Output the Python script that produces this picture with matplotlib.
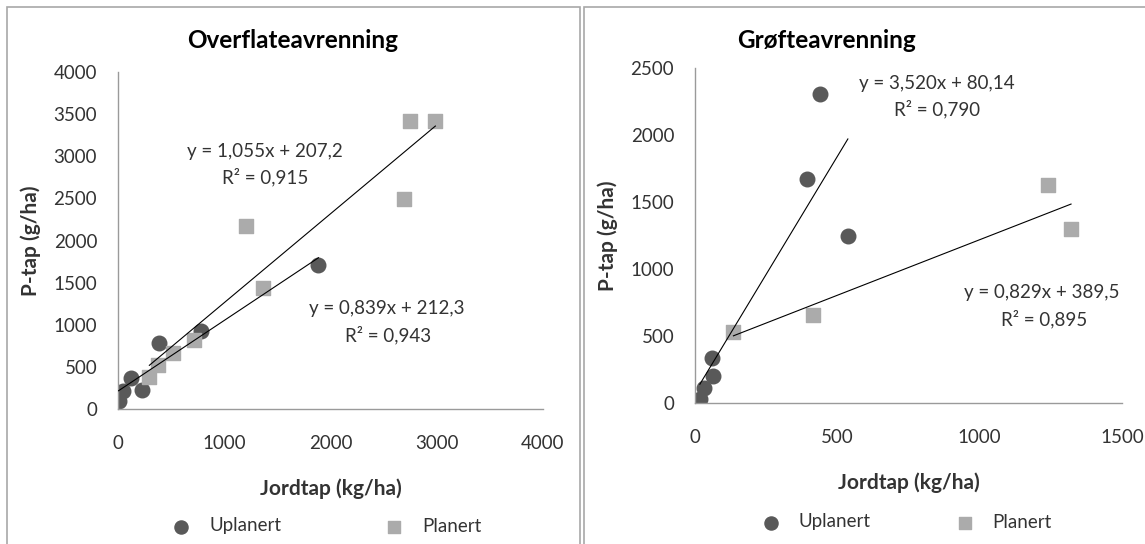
import numpy as np
import matplotlib
matplotlib.use("Agg")
import matplotlib.pyplot as plt
from matplotlib.patches import Rectangle

plt.rcParams['font.family'] = ['Lato', 'DejaVu Sans']

# Overflateavrenning (surface runoff)
ovf_upl_x = [5, 45, 120, 226, 387, 784, 1887]
ovf_upl_y = [100, 219, 366, 231, 784, 923, 1711]
ovf_pla_x = [295, 377, 521, 719, 1209, 1360, 2692, 2750, 2987]
ovf_pla_y = [378, 517, 665, 824, 2177, 1441, 2495, 3423, 3423]

# Grofteavrenning (drain runoff)
gro_upl_x = [17, 30, 59, 62, 394, 439, 537]
gro_upl_y = [30, 112, 336, 204, 1674, 2304, 1249]
gro_pla_x = [135, 413, 1240, 1321]
gro_pla_y = [527, 659, 1630, 1299]

# trendline coefficients (slope, intercept) as printed in the chart
ovf_upl_fit = (0.839, 212.3)
ovf_pla_fit = (1.055, 207.2)
gro_upl_fit = (3.520, 80.14)
gro_pla_fit = (0.829, 389.5)

ovf_upl_lbl = ["y = 0,839x + 212,3", "R² = 0,943"]
ovf_pla_lbl = ["y = 1,055x + 207,2", "R² = 0,915"]
gro_upl_lbl = ["y = 3,520x + 80,14", "R² = 0,790"]
gro_pla_lbl = ["y = 0,829x + 389,5", "R² = 0,895"]

titles = ["Overflateavrenning", "Grøfteavrenning"]
xlabel = "Jordtap (kg/ha)"
ylabel = "P-tap (g/ha)"
legend_names = ["Uplanert", "Planert"]

DARK = '#595959'
LIGHT = '#ababab'
TXT = '#333333'
AX = '#9a9a9a'
FS = 13.5

W, H = 1145, 544
fig = plt.figure(figsize=(W / 100, H / 100), dpi=100)

# panel frames
fig.patches.append(Rectangle((7 / W, -0.1), (580 - 7) / W, 1.1 - 7 / H, transform=fig.transFigure,
                             fill=False, ec='#a8a8a8', lw=1.2))
fig.patches.append(Rectangle((584 / W, -0.1), 1.0, 1.1 - 7 / H, transform=fig.transFigure,
                             fill=False, ec='#a8a8a8', lw=1.2))

ax1 = fig.add_axes([118 / W, (H - 409) / H, 425 / W, 337 / H])
ax2 = fig.add_axes([695 / W, (H - 403) / H, 427 / W, 335 / H])


def trend(ax, xs, fit):
    x = np.array([min(xs), max(xs)])
    ax.plot(x, fit[0] * x + fit[1], color='black', lw=0.8, zorder=3)


def style(ax, xmax, xstep, ymax, ystep):
    ax.set_xlim(0, xmax)
    ax.set_ylim(0, ymax)
    ax.set_xticks(np.arange(0, xmax + 1, xstep))
    ax.set_yticks(np.arange(0, ymax + 1, ystep))
    for s in ['top', 'right']:
        ax.spines[s].set_visible(False)
    for s in ['left', 'bottom']:
        ax.spines[s].set_color(AX)
        ax.spines[s].set_linewidth(1)
    ax.tick_params(axis='both', length=0, labelsize=FS, labelcolor=TXT)
    ax.tick_params(axis='x', pad=19)
    ax.tick_params(axis='y', pad=15)
    ax.set_xlabel(xlabel, fontsize=15, fontweight='bold', color=TXT, labelpad=19)
    ax.set_ylabel(ylabel, fontsize=15, fontweight='bold', color=TXT, labelpad=9)


# left panel
ax1.scatter(ovf_upl_x, ovf_upl_y, s=110, marker='o', color=DARK, zorder=2, label=legend_names[0])
ax1.scatter(ovf_pla_x, ovf_pla_y, s=100, marker='s', color=LIGHT, zorder=2, label=legend_names[1])
trend(ax1, ovf_upl_x, ovf_upl_fit)
trend(ax1, ovf_pla_x, ovf_pla_fit)
style(ax1, 4000, 1000, 4000, 500)
ax1.text(1384, 3062, ovf_pla_lbl[0], ha='center', va='center', fontsize=FS, color=TXT)
ax1.text(1384, 2754, ovf_pla_lbl[1], ha='center', va='center', fontsize=FS, color=TXT)
ax1.text(2532, 1187, ovf_upl_lbl[0], ha='center', va='center', fontsize=FS, color=TXT)
ax1.text(2545, 878, ovf_upl_lbl[1], ha='center', va='center', fontsize=FS, color=TXT)

# right panel
ax2.scatter(gro_upl_x, gro_upl_y, s=110, marker='o', color=DARK, zorder=2, label=legend_names[0])
ax2.scatter(gro_pla_x, gro_pla_y, s=100, marker='s', color=LIGHT, zorder=2, label=legend_names[1])
trend(ax2, gro_upl_x, gro_upl_fit)
trend(ax2, gro_pla_x, gro_pla_fit)
style(ax2, 1500, 500, 2500, 500)
ax2.text(850, 2388, gro_upl_lbl[0], ha='center', va='center', fontsize=FS, color=TXT)
ax2.text(850, 2194, gro_upl_lbl[1], ha='center', va='center', fontsize=FS, color=TXT)
ax2.text(1219, 821, gro_pla_lbl[0], ha='center', va='center', fontsize=FS, color=TXT)
ax2.text(1225, 627, gro_pla_lbl[1], ha='center', va='center', fontsize=FS, color=TXT)

fig.text(293 / W, 1 - 40 / H, titles[0], ha='center', va='center', fontsize=17.5, fontweight='bold', color='black')
fig.text(827 / W, 1 - 40 / H, titles[1], ha='center', va='center', fontsize=17.5, fontweight='bold', color='black')

for ax, cx, cy, cs in [(ax1, 322, 526, 5.0), (ax2, 902, 522, 4.0)]:
    ax.legend(loc='center', bbox_to_anchor=(cx / W, 1 - cy / H), bbox_transform=fig.transFigure,
              ncol=2, frameon=False, fontsize=FS, labelcolor=TXT, columnspacing=cs,
              handletextpad=0.5, scatterpoints=1, markerscale=0.9)

fig.savefig('out.png', dpi=100)
